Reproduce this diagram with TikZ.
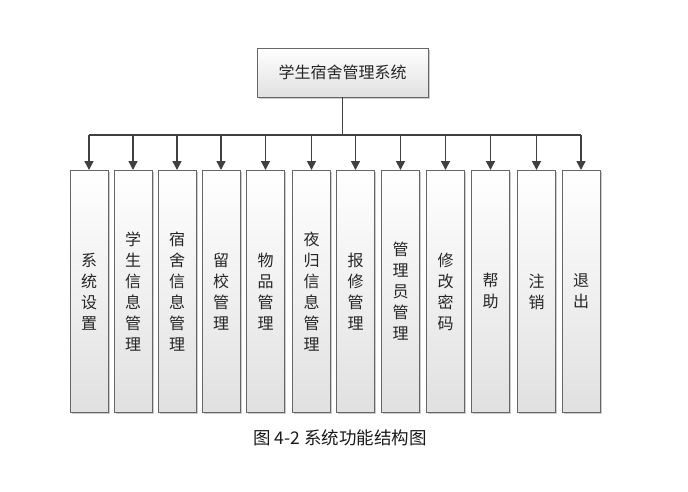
\documentclass[tikz,border=0pt]{standalone}
\usepackage{fontspec}
\setmainfont{Noto Sans CJK SC}
\usetikzlibrary{arrows.meta,shadows}
\begin{document}
\begin{tikzpicture}[x=1pt,y=-1pt,
  box/.style={draw=black!60,line width=0.8pt,top color=white,bottom color=black!12,drop shadow={shadow xshift=1.5pt,shadow yshift=-1.5pt,opacity=0.4}},
  lbl/.style={font=\fontsize{16}{21}\selectfont,align=center,text=black!85},
  arr/.style={-{Triangle[length=9pt,width=9pt]},line width=1.6pt,draw=black!75}]
\useasboundingbox (0,0) rectangle (688,491);
\node[box,minimum width=171pt,minimum height=49pt,lbl] (top) at (342.5,72.5) {学生宿舍管理系统};
\coordinate (bus) at (342.5,135);
\draw[line width=1.6pt,draw=black!75] (top.south) -- (bus);
\draw[line width=1.6pt,draw=black!75] (89,135) -- (581,135);
\foreach \i/\x/\t in {1/89/系\\统\\设\\置, 2/133/学\\生\\信\\息\\管\\理, 3/177/宿\\舍\\信\\息\\管\\理, 4/221/留\\校\\管\\理, 5/265.5/物\\品\\管\\理, 6/311.5/夜\\归\\信\\息\\管\\理, 7/355.5/报\\修\\管\\理, 8/400.5/管\\理\\员\\管\\理, 9/445.5/修\\改\\密\\码, 10/490.5/帮\\助, 11/536.5/注\\销, 12/581/退\\出}{
  \node[box,minimum width=38pt,minimum height=242pt,anchor=north] (b\i) at (\x,170) {};
  \node[lbl] (t\i) at (b\i.center) {\t};
  \coordinate (c\i) at (\x,135);
  \draw[arr] (c\i) -- (b\i.north);
}
\node[font=\fontsize{17.5}{20}\selectfont,text=black!90] (cap) at (340,438) {图 4-2 系统功能结构图};
\end{tikzpicture}
\end{document}
